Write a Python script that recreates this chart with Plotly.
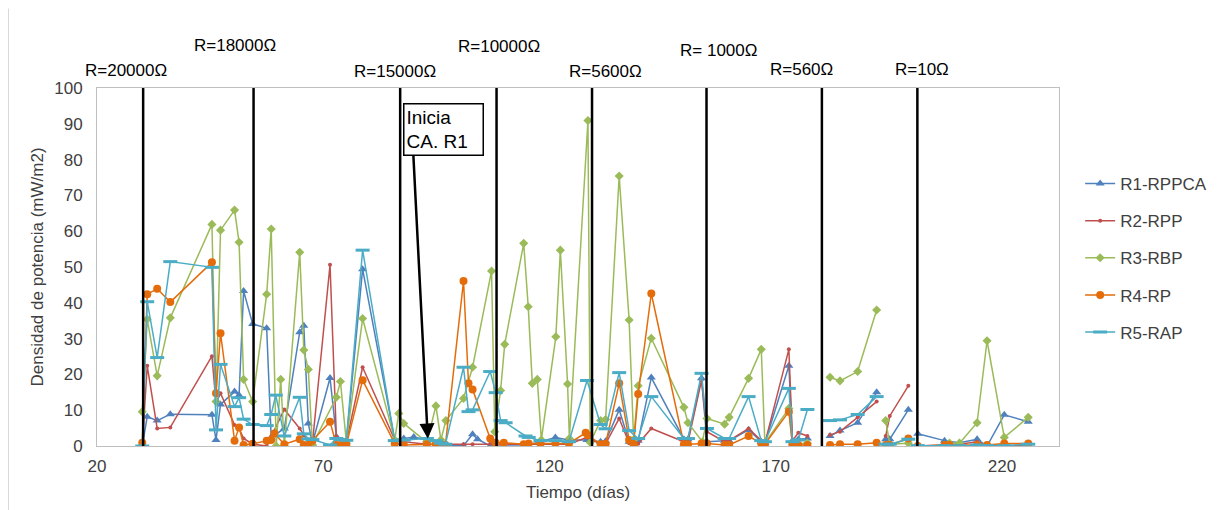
import plotly.graph_objects as go

# ---------------- data ----------------
r1_days = [30.0, 31.1, 33.3, 36.2, 45.4, 46.3, 47.3, 50.4, 51.4, 52.4, 54.4, 57.5, 58.5, 61.4, 64.8, 65.7, 66.7, 67.6,
           71.5, 72.9, 75.1, 78.7, 85.8, 87.8, 90.0, 92.9, 97.0, 101.0, 103.0, 104.1, 106.9, 109.9, 114.3, 118.0, 121.3,
           124.3, 128.3, 131.3, 132.4, 135.4, 137.6, 139.6, 142.5, 149.7, 150.6, 153.6, 154.8, 158.7, 159.7, 164.0,
           166.8, 167.6, 172.9, 173.7, 175.0, 177.0, None, 182.0, 184.2, 188.1, 192.3, None, 194.3, 195.2, 199.3, None,
           201.4, 207.3, 210.6, 214.5, 216.7, 220.5, 225.8]
r1_vals = [0.0, 8.2, 7.1, 8.9, 8.7, 1.7, 11.6, 15.2, 14.2, 43.3, 34.1, 32.9, 2.4, 4.9, 31.8, 33.6, 6.3, 0.7,
           19.0, 2.6, 1.2, 49.4, 1.7, 2.1, 2.5, 1.7, 0.3, 0.1, 3.3, 1.9, 0.0, 0.0, 0.0, 1.2, 2.4,
           1.7, 1.7, 1.2, 1.3, 10.1, 1.2, 1.5, 19.1, 1.9, 1.9, 18.9, 1.2, 1.5, 1.5, 4.5,
           1.2, 0.8, 22.4, 1.5, 1.9, 2.1, None, 2.8, 4.3, 6.5, 15.0, None, 1.9, 1.9, 10.1, None,
           3.4, 1.5, 0.9, 1.9, 0.0, 8.7, 6.8]

r2_days = [30.0, 31.1, 33.3, 36.2, 45.4, 46.3, 47.3, 50.4, 51.4, 52.4, 54.4, 57.5, 58.5, 61.4, 64.8, 65.7, 66.7, 67.6,
           71.5, 72.9, 75.1, 78.7, 85.8, 87.8, 92.9, 97.0, 101.0, 103.0, 106.9, 109.9, 114.3, 118.0, 121.3, 124.3,
           128.3, 131.3, 132.4, 135.4, 137.6, 139.6, 142.5, 149.7, 150.6, 153.6, 154.8, 158.7, 159.7, 164.0, 166.8,
           167.6, 172.9, 173.7, 175.0, 177.0, None, 182.0, 184.2, 188.1, 192.3, None, 194.3, 195.2, 199.3, None,
           201.4, 207.3, 210.6, 214.5, 216.7, 220.5, 225.8]
r2_vals = [0.0, 22.4, 4.9, 5.2, 25.1, 12.0, 14.7, 5.9, 4.9, 2.1, 0.5, 0.0, 2.6, 10.2, 4.9, 3.1, 1.0, 0.7,
           50.6, 2.6, 1.2, 22.0, 1.7, 1.2, 0.5, 0.5, 0.5, 0.5, 0.6, 0.4, 0.5, 0.5, 0.6, 0.5,
           2.4, 0.5, 0.6, 7.7, 0.8, 0.6, 4.9, 1.2, 1.0, 18.4, 4.0, 1.2, 1.5, 4.9, 1.5,
           0.8, 27.0, 1.5, 3.7, 2.8, None, 3.1, 4.0, 8.0, 12.4, None, 2.8, 8.4, 16.8, None,
           0.0, 0.3, 0.5, 1.2, 0.3, 0.0, 0.3]

r3_days = [30.0, 31.1, 33.3, 36.2, 45.4, 46.3, 47.3, 50.4, 51.4, 52.4, 54.4, 57.5, 58.5, 59.6, 60.6, 61.4, 64.8, 65.7,
           66.7, 67.6, 72.9, 73.8, 75.1, 78.7, 85.8, 86.7, 87.8, 92.9, 94.9, 96.0, 97.1, 101.0, 103.0, 107.2, 107.9,
           109.2, 110.1, 114.3, 115.3, 116.2, 117.3, 118.2, 121.4, 122.4, 124.0, 124.4, 128.5, 129.0, 131.3, 132.4,
           135.4, 137.6, 138.6, 139.6, 142.5, 149.7, 150.6, 153.8, 154.8, 158.7, 159.7, 164.0, 166.8, 167.6, 172.9,
           173.7, 177.0, None, 182.0, 184.2, 188.1, 192.3, None, 194.3, 195.2, 199.3, None, 201.4, 207.3, 208.4,
           210.6, 214.5, 216.7, 220.5, 225.8]
r3_vals = [9.6, 35.4, 19.6, 35.8, 61.9, 12.4, 60.3, 65.9, 56.9, 18.6, 12.4, 42.4, 60.6, 0.0, 18.6, 0.0, 54.1, 26.8,
           21.4, 0.3, 13.6, 18.0, 1.2, 35.6, 1.7, 9.1, 6.3, 1.0, 11.2, 1.7, 7.1, 13.3, 22.0, 48.9, 4.0,
           15.5, 28.4, 56.6, 38.9, 17.5, 18.6, 1.7, 30.5, 54.7, 17.3, 2.1, 90.9, 1.0, 7.1, 7.4,
           75.4, 35.2, 1.7, 16.8, 30.1, 10.8, 6.5, 1.2, 7.7, 6.1, 8.0, 18.9, 27.0, 0.8, 10.5,
           0.5, 0.8, None, 19.2, 18.2, 20.8, 38.0, None, 7.1, 0.5, 0.8, None, 0.0, 0.0, 0.8,
           0.8, 6.5, 29.4, 2.4, 8.0]

r4_days = [30.0, 31.1, 33.3, 36.2, 45.4, 46.3, 47.3, 50.4, 51.4, 52.4, 54.4, 57.5, 58.5, 59.2, 61.4, 64.8, 65.7, 66.7,
           67.6, 71.5, 72.9, 73.8, 75.1, 78.7, 85.8, 87.8, 92.9, 94.9, 96.0, 97.0, 101.0, 102.1, 103.0, 106.9, 108.1,
           109.9, 114.3, 115.4, 118.0, 121.3, 124.3, 128.0, 128.5, 131.3, 132.4, 135.4, 137.6, 138.6, 139.6, 142.5,
           149.7, 150.6, 153.6, 154.8, 158.7, 159.7, 164.0, 166.8, 167.6, 172.9, 173.7, 175.0, 177.0, None, 182.0,
           184.2, 188.1, 192.3, None, 194.3, 195.2, 199.3, None, 201.4, 207.3, 208.4, 214.5, 216.7, 220.5, 225.8]
r4_vals = [0.9, 42.4, 43.9, 40.2, 51.3, 14.7, 31.5, 1.5, 5.2, 0.3, 0.6, 1.5, 1.7, 3.5, 0.5, 1.9, 0.3, 0.3,
           1.5, 6.8, 0.3, 0.3, 0.3, 18.4, 0.7, 0.3, 0.5, 0.5, 0.4, 0.3, 46.1, 17.5, 15.8, 2.1, 0.9,
           0.9, 0.5, 0.7, 0.7, 0.8, 0.7, 3.7, 3.0, 0.5, 0.6, 17.5, 1.7, 0.5, 14.5, 42.6,
           0.5, 0.5, 0.7, 0.7, 0.3, 0.3, 2.8, 0.7, 0.5, 9.6, 0.3, 0.3, 0.3, None, 0.3,
           0.5, 0.5, 0.9, None, 0.3, 0.3, 2.1, None, 0.0, 0.3, 0.3, 0.3, 0.3, 0.7, 0.7]

r5_days = [30.0, 31.1, 33.3, 36.2, 45.4, 46.3, 47.3, 50.4, 51.4, 52.4, 54.4, 57.5, 58.5, 59.5, 61.4, 64.8, 65.7, 66.7,
           67.6, 71.5, 72.9, 73.8, 75.1, 78.7, 85.8, 87.8, 92.9, 94.9, 96.0, 97.0, 101.0, 102.1, 103.0, 106.9, 108.1,
           109.2, 110.3, 114.7, 115.4, 118.0, 121.3, 124.3, 128.3, 131.3, 132.4, 135.4, 137.6, 139.6, 142.5, 149.7,
           150.6, 153.6, 154.8, 158.7, 159.7, 164.0, 166.8, 167.6, 172.9, 173.7, 175.0, 177.0, None, 182.0, 184.2,
           188.1, 192.3, None, 194.3, 195.2, 199.3, None, 201.4, 207.3, 210.6, 214.5, 216.7, 220.5, 225.8]
r5_vals = [0.0, 40.3, 24.7, 51.5, 49.9, 4.5, 22.8, 11.0, 13.5, 7.5, 6.0, 5.7, 8.8, 14.2, 2.8, 13.6, 3.4, 2.0,
           1.8, 0.3, 2.1, 1.8, 1.6, 54.7, 1.5, 1.7, 2.1, 1.5, 0.8, 0.5, 22.0, 9.6, 10.1, 20.8, 14.9,
           7.1, 6.5, 2.8, 2.4, 1.5, 1.5, 1.2, 18.3, 6.0, 4.8, 20.5, 4.3, 2.1, 13.8, 2.1,
           2.1, 20.3, 4.9, 2.1, 2.1, 13.8, 1.5, 1.2, 16.1, 1.2, 1.7, 10.2, None, 7.1, 7.3,
           8.8, 13.8, None, 0.5, 0.5, 1.9, None, 0.1, 0.1, 0.1, 0.3, 0.1, 0.1, 0.5]

series_names = ["R1-RPPCA", "R2-RPP", "R3-RBP", "R4-RP", "R5-RAP"]

# resistance change days and their labels
change_days = [30.2, 54.6, 87.0, 108.3, 129.4, 154.7, 180.2, 201.3]
resistance_labels = ["R=20000Ω", "R=18000Ω", "R=15000Ω", "R=10000Ω", "R=5600Ω", "R= 1000Ω", "R=560Ω", "R=10Ω"]
label_days = [26.5, 50.5, 85.8, 108.9, 132.3, 157.3, 175.8, 202.4]
label_levels = [1.050, 1.120, 1.045, 1.115, 1.047, 1.106, 1.053, 1.053]

x_range = [20, 232.6]
x_ticks = [20, 70, 120, 170, 220]
y_ticks = [0, 10, 20, 30, 40, 50, 60, 70, 80, 90, 100]

# ---------------- figure ----------------
FONT = "Liberation Sans, Arial, sans-serif"
TXT = "#404040"
styles = [
    dict(color="#4F81BD", symbol="triangle-up", size=8),
    dict(color="#C0504D", symbol="circle", size=4),
    dict(color="#9BBB59", symbol="diamond", size=7),
    dict(color="#E46C0A", symbol="circle", size=8),
    dict(color="#4BACC6", symbol="line-ew", size=10),
]
xs = [r1_days, r2_days, r3_days, r4_days, r5_days]
ys = [r1_vals, r2_vals, r3_vals, r4_vals, r5_vals]

fig = go.Figure()
for name, x, y, st in zip(series_names, xs, ys, styles):
    marker = dict(symbol=st["symbol"], size=st["size"], color=st["color"])
    if st["symbol"] == "line-ew":
        marker["line"] = dict(color=st["color"], width=3)
    fig.add_trace(go.Scatter(
        x=x, y=y, name=name, mode="lines+markers",
        line=dict(color=st["color"], width=1.5),
        marker=marker, connectgaps=False, legendgroup=name,
    ))

shapes = []
for d in change_days:
    shapes.append(dict(type="line", xref="x", yref="y", x0=d, x1=d, y0=0, y1=100,
                       line=dict(color="black", width=2.5), layer="above"))
# faint outer chart-area border (left edge visible in the reference)
shapes.append(dict(type="line", xref="paper", yref="paper", x0=-0.092, x1=-0.092, y0=-0.25, y1=1.222,
                   line=dict(color="#D9D9D9", width=1)))

annotations = []
for lab, d, lv in zip(resistance_labels, label_days, label_levels):
    annotations.append(dict(text=lab, x=d, y=lv, xref="x", yref="paper", showarrow=False,
                            font=dict(family=FONT, size=17, color="black"), xanchor="center", yanchor="middle"))

# "Inicia CA. R1" call-out
annotations.append(dict(text="Inicia<br>CA. R1", x=87.6, y=95.9, xref="x", yref="y", showarrow=False,
                        xanchor="left", yanchor="top", align="left", width=74,
                        font=dict(family=FONT, size=19, color="black"),
                        bordercolor="black", borderwidth=1.5, borderpad=2, bgcolor="white"))
annotations.append(dict(text="", x=93.1, y=2.1, ax=89.9, ay=81.6, xref="x", yref="y", axref="x", ayref="y",
                        showarrow=True, arrowhead=2, arrowsize=1.2, arrowwidth=2.5, arrowcolor="black"))

# page body keeps its default 8px margin, so the figure is 8px smaller on every side
fig.update_layout(
    width=1222, height=502, autosize=False,
    margin=dict(l=89, r=171, t=80, b=64),
    paper_bgcolor="white", plot_bgcolor="white",
    font=dict(family=FONT, size=17, color=TXT),
    showlegend=True,
    legend=dict(x=1.022, y=0.525, xanchor="left", yanchor="middle", font=dict(size=17, color=TXT),
                tracegroupgap=12, bgcolor="rgba(0,0,0,0)"),
    shapes=shapes, annotations=annotations,
)
fig.update_xaxes(range=x_range, tickvals=x_ticks, showgrid=False, zeroline=False,
                 showline=True, linecolor="#BFBFBF", linewidth=1, mirror=True,
                 ticks="", ticklabelstandoff=5, tickfont=dict(size=17, color=TXT),
                 title=dict(text="Tiempo (días)", font=dict(size=17, color=TXT), standoff=10))
fig.update_yaxes(range=[0, 100], tickvals=y_ticks, showgrid=False, zeroline=False,
                 showline=True, linecolor="#BFBFBF", linewidth=1, mirror=True,
                 ticks="", ticklabelstandoff=10, tickfont=dict(size=17, color=TXT),
                 title=dict(text="Densidad de potencia (mW/m2)", font=dict(size=17, color=TXT), standoff=6))

fig.write_html("out.html")
